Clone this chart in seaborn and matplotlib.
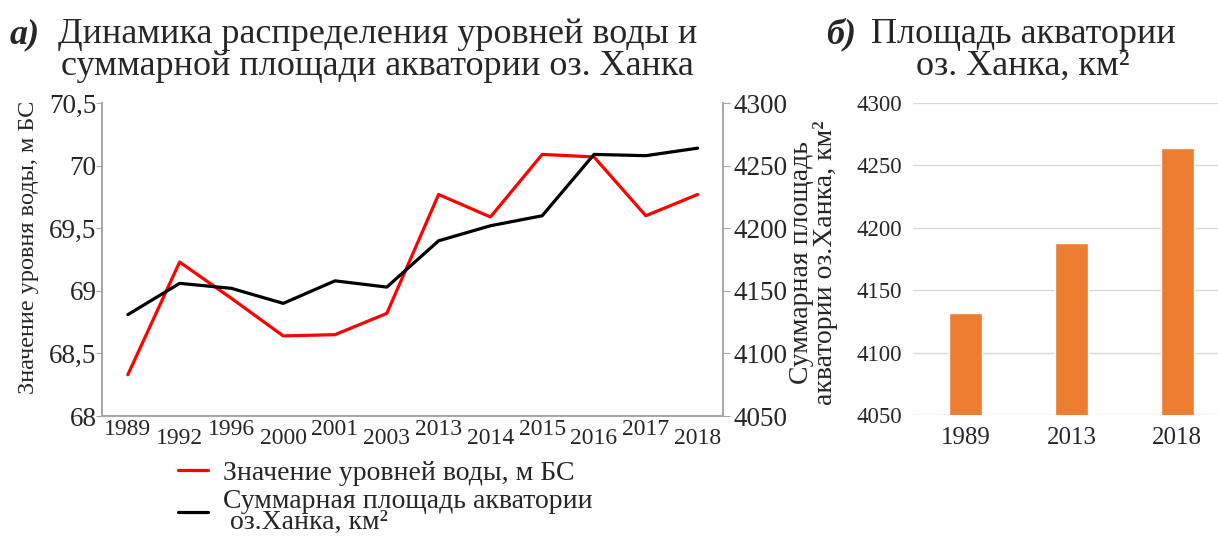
import matplotlib
matplotlib.use("Agg")
import matplotlib.pyplot as plt
import matplotlib.transforms as mtransforms
from matplotlib.lines import Line2D
import seaborn as sns
import pandas as pd

# data
years = ['1989', '1992', '1996', '2000', '2001', '2003',
         '2013', '2014', '2015', '2016', '2017', '2018']
water_level = [68.33, 69.23, 68.94, 68.64, 68.65, 68.82,
               69.77, 69.59, 70.09, 70.07, 69.60, 69.77]
lake_area = [4131, 4156, 4152, 4140, 4158, 4153,
             4190, 4202, 4210, 4259, 4258, 4264]

bar_years = ['1989', '2013', '2018']
bar_area = [4132, 4188, 4264]

level_ticks = [68, 68.5, 69, 69.5, 70, 70.5]
level_labels = ['68', '68,5', '69', '69,5', '70', '70,5']
area_ticks = [4050, 4100, 4150, 4200, 4250, 4300]

sns.set_style("white")
plt.rcParams['font.family'] = ['Liberation Serif', 'DejaVu Serif']

GRAY = '#A6A6A6'
TITLE_FS = 26

fig = plt.figure(figsize=(12.18, 5.37), dpi=100)

# ---- left chart: two lines on twin axes ----
ax = fig.add_axes([0.0837, 0.2253, 0.5103, 0.5827])
df = pd.DataFrame({'pos': range(len(years)), 'level': water_level, 'area': lake_area})
sns.lineplot(data=df, x='pos', y='level', ax=ax, color='#FF0000', linewidth=2.3)
ax2 = ax.twinx()
sns.lineplot(data=df, x='pos', y='area', ax=ax2, color='black', linewidth=2.3)

ax.set_xlim(-0.5, len(years) - 0.5)
ax.set_ylim(68, 70.5)
ax2.set_ylim(4050, 4300)
ax.set_yticks(level_ticks)
ax.set_yticklabels(level_labels, fontsize=19.5)
ax2.set_yticks(area_ticks)
ax2.set_yticklabels([str(t) for t in area_ticks], fontsize=19.5)

# tick marks on category borders, labels in the middle
ax.set_xticks([i - 0.5 for i in range(len(years) + 1)])
ax.set_xticklabels([])
ax.set_xticks(range(len(years)), minor=True)
ax.set_xticklabels(years, minor=True, fontsize=17)
ax.tick_params(axis='x', which='major', length=5, color=GRAY, direction='out')
ax.tick_params(axis='x', which='minor', length=0, pad=2)
for i, lab in enumerate(ax.get_xticklabels(minor=True)):
    if i % 2 == 1:
        off = mtransforms.ScaledTranslation(0, -9 / 100, fig.dpi_scale_trans)
        lab.set_transform(lab.get_transform() + off)

ax.tick_params(axis='y', length=4, color=GRAY, direction='out', pad=0, left=True)
ax2.tick_params(axis='y', length=5, color=GRAY, direction='out', pad=2, right=True)

for a in (ax, ax2):
    a.set_xlabel('')
    a.spines['top'].set_visible(False)
    for s in ('left', 'right', 'bottom'):
        a.spines[s].set_color(GRAY)
        a.spines[s].set_linewidth(1.2)

ax.set_ylabel('Значение уровня воды, м БС', fontsize=17.5, labelpad=7)
ax.yaxis.label.set_y(0.538)
ax2.set_ylabel('Суммарная площадь\nакватории оз.Ханка, км²', fontsize=20,
               labelpad=1, linespacing=0.95)
ax2.yaxis.label.set_y(0.49)

# legend below the chart
handles = [Line2D([], [], color='#FF0000', linewidth=2.3),
           Line2D([], [], color='black', linewidth=2.3)]
labels = ['Значение уровней воды, м БС',
          'Суммарная площадь акватории\n оз.Ханка, км²']
leg = fig.legend(handles, labels, loc='upper left', bbox_to_anchor=(0.146, 0.143),
                 frameon=False, fontsize=20, handlelength=1.08, handletextpad=0.54,
                 labelspacing=0.12, borderaxespad=0, borderpad=0)
for t in leg.get_texts():
    t.set_linespacing(0.78)

# titles
fig.text(0.008, 0.935, 'а)', fontsize=TITLE_FS, fontweight='bold', fontstyle='italic',
         va='center', ha='left')
fig.text(0.31, 0.935, 'Динамика распределения уровней воды и', fontsize=TITLE_FS,
         va='center', ha='center')
fig.text(0.31, 0.877, 'суммарной площади акватории оз. Ханка', fontsize=TITLE_FS,
         va='center', ha='center')

# ---- right chart: bars ----
bx = fig.add_axes([0.7496, 0.2272, 0.2603, 0.5808])
bdf = pd.DataFrame({'year': bar_years, 'area': bar_area})
sns.barplot(data=bdf, x='year', y='area', ax=bx, color='#ED7D31',
            saturation=1, width=0.31)
bx.set_ylim(4050, 4300)
bx.set_yticks(area_ticks)
bx.set_yticklabels([str(t) for t in area_ticks], fontsize=16.5)
bx.tick_params(axis='x', labelsize=18, length=0, pad=9)
bx.tick_params(axis='y', length=0, pad=8)
bx.set_xlabel('')
bx.set_ylabel('')
bx.grid(axis='y', color='#D9D9D9', linewidth=1)
bx.set_axisbelow(True)
for s in bx.spines.values():
    s.set_visible(False)

fig.text(0.678, 0.935, 'б)', fontsize=TITLE_FS, fontweight='bold', fontstyle='italic',
         va='center', ha='left')
fig.text(0.84, 0.935, 'Площадь акватории', fontsize=TITLE_FS, va='center', ha='center')
fig.text(0.84, 0.877, 'оз. Ханка, км²', fontsize=TITLE_FS, va='center', ha='center')

fig.savefig('out.png', dpi=100)
